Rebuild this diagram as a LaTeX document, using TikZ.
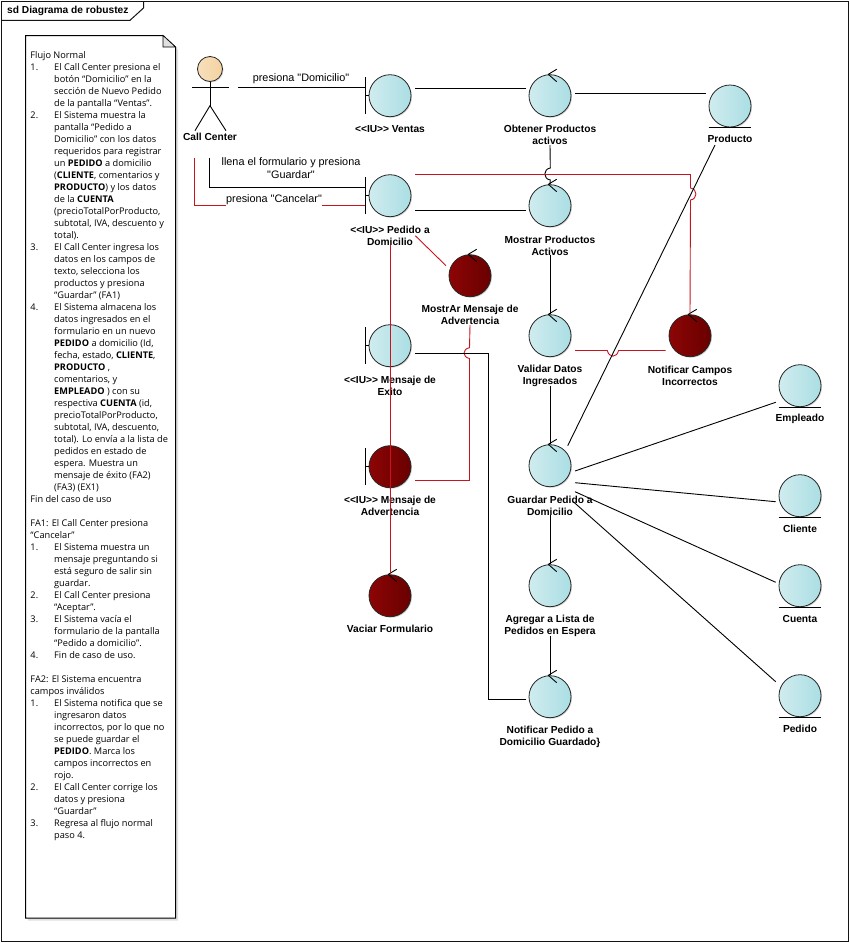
\documentclass[tikz,border=0pt]{standalone}
\usepackage{fontspec}
\usepackage{array}
\usetikzlibrary{shadows}
\setmainfont{Open Sans}
\newfontfamily\labelfont{Liberation Sans}
\definecolor{framegray}{RGB}{20, 20, 20}
\definecolor{bodylight}{RGB}{208, 236, 239}
\definecolor{bodyteal}{RGB}{170, 222, 227}
\definecolor{alertlight}{RGB}{140, 5, 5}
\definecolor{alertdark}{RGB}{105, 0, 0}
\definecolor{linkred}{RGB}{200, 20, 30}
\definecolor{headtan}{RGB}{244, 210, 160}
\newcommand{\wholeline}[1]{\multicolumn{2}{@{}l@{}}{#1}}
\tikzset{
  robust/.style={circle, draw=black!85, line width=0.8pt, minimum size=42pt, inner sep=0pt, left color=bodylight, right color=bodyteal, drop shadow={shadow xshift=1pt, shadow yshift=-1pt, opacity=0.35}},
  alert/.style={robust, left color=alertlight, right color=alertdark},
  caption/.style={font=\labelfont\fontsize{10.2}{12}\selectfont\bfseries, align=center, inner sep=0pt},
  linktext/.style={font=\labelfont\fontsize{10.85}{12.6}\selectfont, align=center, inner sep=0pt},
  link/.style={draw=black, line width=0.9pt},
  linkalert/.style={draw=linkred, line width=0.9pt}
}
\begin{document}
\begin{tikzpicture}[x=1pt, y=-1pt]
    \useasboundingbox (0,0) rectangle (850,943);
    \fill[white] (0,0) rectangle (850,943);

    % --- FRAME ---
    \draw[framegray, line width=1pt] (1.5,941.5) -- (1.5,1.5) -- (848.8,1.5) -- (848.8,941.5) -- cycle;
    \draw[framegray, line width=1pt] (1.5,20.3) -- (130,20.3) -- (143.5,8) -- (143.5,1.5);
    \node[anchor=west, inner sep=0pt, font=\labelfont\fontsize{10.2}{12}\selectfont\bfseries] (frametitle) at (7,10.5) {sd Diagrama de robustez};

    % --- NOTE ---
    \fill[black!12] (28,38) -- (165.5,38) -- (178,49.5) -- (178,920.5) -- (28,920.5) -- cycle;
    \draw[black, fill=white, line width=1pt] (25.5,35.5) -- (163,35.5) -- (175.5,47) -- (175.5,918) -- (25.5,918) -- cycle;
    \draw[black, fill=black!12, line width=0.6pt] (163,35.5) -- (163,47) -- (175.5,47) -- cycle;
    \node[anchor=north west, inner sep=0pt, font=\fontsize{9.2}{12}\selectfont] (notetext) at (30.3,50.3) {%
      \begin{tabular}{@{}p{23.7pt}@{}l@{}}
      \wholeline{Flujo Normal}\\
      1. & El Call Center presiona el\\
       & botón “Domicilio” en la\\
       & sección de Nuevo Pedido\\
       & de la pantalla “Ventas”.\\
      2. & El Sistema muestra la\\
       & pantalla “Pedido a\\
       & Domicilio” con los datos\\
       & requeridos para registrar\\
       & un \textbf{PEDIDO} a domicilio\\
       & (\textbf{CLIENTE}, comentarios y\\
       & \textbf{PRODUCTO}) y los datos\\
       & de la \textbf{CUENTA}\\
       & (precioTotalPorProducto,\\
       & subtotal, IVA, descuento y\\
       & total).\\
      3. & El Call Center ingresa los\\
       & datos en los campos de\\
       & texto, selecciona los\\
       & productos y presiona\\
       & “Guardar” (FA1)\\
      4. & El Sistema almacena los\\
       & datos ingresados en el\\
       & formulario en un nuevo\\
       & \textbf{PEDIDO} a domicilio (Id,\\
       & fecha, estado, \textbf{CLIENTE},\\
       & \textbf{PRODUCTO} ,\\
       & comentarios, y\\
       & \textbf{EMPLEADO} ) con su\\
       & respectiva \textbf{CUENTA} (id,\\
       & precioTotalPorProducto,\\
       & subtotal, IVA, descuento,\\
       & total). Lo envía a la lista de\\
       & pedidos en estado de\\
       & espera. Muestra un\\
       & mensaje de éxito (FA2)\\
       & (FA3) (EX1)\\
      \wholeline{Fin del caso de uso}\\
      \wholeline{}\\
      \wholeline{FA1: El Call Center presiona}\\
      \wholeline{“Cancelar”}\\
      1. & El Sistema muestra un\\
       & mensaje preguntando si\\
       & está seguro de salir sin\\
       & guardar.\\
      2. & El Call Center presiona\\
       & “Aceptar”.\\
      3. & El Sistema vacía el\\
       & formulario de la pantalla\\
       & “Pedido a domicilio”.\\
      4. & Fin de caso de uso.\\
      \wholeline{}\\
      \wholeline{FA2: El Sistema encuentra}\\
      \wholeline{campos inválidos}\\
      1. & El Sistema notifica que se\\
       & ingresaron datos\\
       & incorrectos, por lo que no\\
       & se puede guardar el\\
       & \textbf{PEDIDO}. Marca los\\
       & campos incorrectos en\\
       & rojo.\\
      2. & El Call Center corrige los\\
       & datos y presiona\\
       & “Guardar”\\
      3. & Regresa al flujo normal\\
       & paso 4.
      \end{tabular}};

    % --- ACTOR ---
    \node[circle, draw=black!85, line width=0.8pt, minimum size=25pt, inner sep=0pt, left color=headtan!70, right color=headtan, drop shadow={shadow xshift=1pt, shadow yshift=-1pt, opacity=0.3}] (head) at (210,69) {};
    \coordinate (hip) at (210,105.7);
    \draw[link] (head.south) -- (hip);
    \draw[link] (192,87) -- (228.7,87);
    \draw[link] (195,130.7) -- (hip) -- (226,130.7);
    \node[caption] (actorlabel) at (210,136.5) {Call Center};

    % --- ELEMENTS ---
    \node[robust] (ventas) at (390,95.7) {};
    \node[caption] (ventaslabel) at (390,129) {<{}<IU>{}> Ventas};
    \node[robust] (obtener) at (550,95.7) {};
    \node[caption] (obtenerlabel) at (550,135.1) {Obtener Productos\\activos};
    \node[robust] (producto) at (730,106) {};
    \node[caption] (productolabel) at (730,138.7) {Producto};
    \node[robust] (pedidoui) at (390,195.7) {};
    \node[caption] (pedidouilabel) at (390,235.4) {<{}<IU>{}> Pedido a\\Domicilio};
    \node[robust] (mostrar) at (550,205.7) {};
    \node[caption] (mostrarlabel) at (550,245.4) {Mostrar Productos\\Activos};
    \node[alert] (mostrarmsg) at (470,275.7) {};
    \node[caption] (mostrarmsglabel) at (470,315.1) {MostrAr Mensaje de\\Advertencia};
    \node[robust] (exito) at (390,345.7) {};
    \node[caption] (exitolabel) at (390,385.4) {<{}<IU>{}> Mensaje de\\Exito};
    \node[robust] (validar) at (550,335.7) {};
    \node[caption] (validarlabel) at (550,375.4) {Validar Datos\\Ingresados};
    \node[alert] (campos) at (690,335.7) {};
    \node[caption] (camposlabel) at (690,375.4) {Notificar Campos\\Incorrectos};
    \node[alert] (advertencia) at (390,466.7) {};
    \node[caption] (advertencialabel) at (390,505.4) {<{}<IU>{}> Mensaje de\\Advertencia};
    \node[robust] (guardar) at (550,465.7) {};
    \node[caption] (guardarlabel) at (550,505.4) {Guardar Pedido a\\Domicilio};
    \node[alert] (vaciar) at (390,595.7) {};
    \node[caption] (vaciarlabel) at (390,628.7) {Vaciar Formulario};
    \node[robust] (agregar) at (550,585.7) {};
    \node[caption] (agregarlabel) at (550,625.4) {Agregar a Lista de\\Pedidos en Espera};
    \node[robust] (notificar) at (550,696.7) {};
    \node[caption] (notificarlabel) at (550,736.4) {Notificar Pedido a\\Domicilio Guardado\}};
    \node[robust] (empleado) at (800,385.7) {};
    \node[caption] (empleadolabel) at (800,418.7) {Empleado};
    \node[robust] (cliente) at (800,495.7) {};
    \node[caption] (clientelabel) at (800,528.7) {Cliente};
    \node[robust] (cuenta) at (800,585.7) {};
    \node[caption] (cuentalabel) at (800,618.7) {Cuenta};
    \node[robust] (pedido) at (800,695.7) {};
    \node[caption] (pedidolabel) at (800,728.7) {Pedido};

    % Boundary ticks
    \foreach \elem in {ventas, pedidoui, exito, advertencia} {
      \draw[link] ([xshift=-24.7pt,yshift=18.7pt]\elem.center) -- ([xshift=-24.7pt,yshift=-18.7pt]\elem.center);
      \draw[link] ([xshift=-24.7pt]\elem.center) -- (\elem.west);
    }
    % Entity underlines
    \foreach \elem in {producto, empleado, cliente, cuenta, pedido} {
      \draw[link] ([xshift=-21.3pt,yshift=-21.5pt]\elem.center) -- ([xshift=21.3pt,yshift=-21.5pt]\elem.center);
    }
    % Control arrows
    \foreach \elem in {obtener, mostrar, mostrarmsg, validar, campos, guardar, vaciar, agregar, notificar} {
      \draw[link] ([xshift=6.7pt,yshift=26.4pt]\elem.center) -- ([xshift=-1.7pt,yshift=21.4pt]\elem.center) -- ([xshift=6.7pt,yshift=14pt]\elem.center);
    }

    % --- CONNECTORS ---
    \draw[link] ([xshift=28pt,yshift=-18pt]head.center) -- ([xshift=-24.7pt,yshift=8.7pt]ventas.center);
    \node[linktext] (lbldomicilio) at (301,78.7) {presiona "Domicilio"};
    \draw[link] ([xshift=-0.5pt,yshift=-89pt]head.center) -- (209.5,187.3) -- ([xshift=-24.7pt,yshift=8.4pt]pedidoui.center);
    \node[linktext] (lblllena) at (291,168) {llena el formulario y presiona\\"Guardar"};
    \draw[linkalert] ([xshift=-15.5pt,yshift=-89pt]head.center) -- (194.5,205.5) -- ([xshift=-24.7pt,yshift=-9.8pt]pedidoui.center);
    \node[linktext, fill=white, minimum height=13pt, inner xsep=0.5pt] (lblcancelar) at (274,200) {presiona "Cancelar"};

    \draw[link] ([xshift=25pt,yshift=7.4pt]ventas.center) -- ([xshift=-24pt,yshift=7.4pt]obtener.center);
    \draw[link] ([xshift=25pt,yshift=2.4pt]obtener.center) -- ([xshift=-24.3pt,yshift=12.7pt]producto.center);
    \draw[link] (obtenerlabel.south) -- (550.3,168) .. controls (543,169) and (543,179) .. (550.3,180) -- (mostrar.north);
    \draw[link] ([xshift=25pt,yshift=-14.6pt]pedidoui.center) -- ([xshift=-24pt,yshift=-4.6pt]mostrar.center);
    \draw[linkalert] ([xshift=25pt,yshift=21.2pt]pedidoui.center) -- (690.5,174.5) -- (690.5,188) .. controls (697.7,189) and (697.7,199) .. (690.5,200) -- (campos.north);
    \draw[linkalert] ([xshift=25.3pt,yshift=-40pt]pedidoui.center) -- ([xshift=-24pt,yshift=10pt]mostrarmsg.center);
    \draw[linkalert] (pedidouilabel.south) -- (vaciar.north);
    \draw[link] (mostrarlabel.south) -- (validar.north);
    \draw[linkalert] (mostrarmsglabel.south) -- (469.5,347.7) .. controls (462.2,349) and (462.2,357) .. (469.5,358.5) -- (469.5,480.5) -- ([xshift=25pt,yshift=-13.8pt]advertencia.center);
    \draw[link] ([xshift=25pt,yshift=-7.6pt]exito.center) -- (488.3,353.3) -- (488.3,699.3) -- ([xshift=-24pt,yshift=-2.6pt]notificar.center);
    \draw[linkalert] ([xshift=25pt,yshift=-14.8pt]validar.center) -- (607.3,350.5) .. controls (609,358) and (617,358) .. (618.5,350.5) -- ([xshift=-24.3pt,yshift=-14.8pt]campos.center);
    \draw[link] ([xshift=-15pt,yshift=-6.3pt]productolabel.center) -- ([xshift=17.7pt,yshift=20pt]guardar.center);
    \draw[link] (validarlabel.south) -- (guardar.north);
    \draw[link] ([xshift=25pt,yshift=-5.3pt]guardar.center) -- ([xshift=-24.3pt,yshift=-16.6pt]empleado.center);
    \draw[link] ([xshift=25pt,yshift=-17pt]guardar.center) -- ([xshift=-24.3pt,yshift=-6pt]cliente.center);
    \draw[link] ([xshift=25pt,yshift=-26pt]guardar.center) -- ([xshift=-24.3pt,yshift=3.4pt]cuenta.center);
    \draw[link] ([xshift=23.3pt,yshift=-36pt]guardar.center) -- ([xshift=-24.3pt,yshift=14pt]pedido.center);
    \draw[link] (guardarlabel.south) -- (agregar.north);
    \draw[link] (agregarlabel.south) -- (notificar.north);
\end{tikzpicture}
\end{document}
